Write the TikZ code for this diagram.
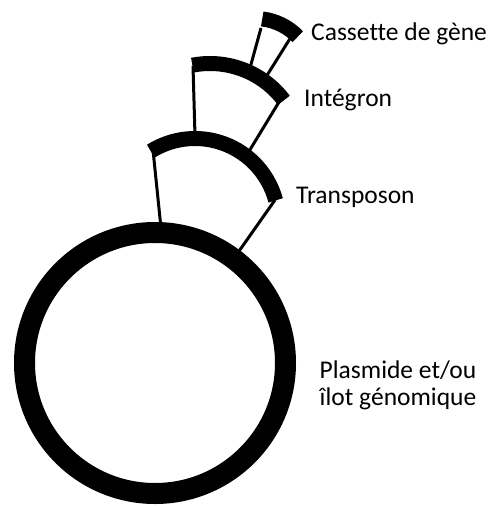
\documentclass[tikz,border=0pt]{standalone}
\usepackage{fontspec}
\setmainfont{Carlito}[Ligatures=NoCommon]
\begin{document}
\begin{tikzpicture}[x=1pt,y=-1pt,
  band/.style={line width=15pt},
  link/.style={line width=3pt},
  lbl/.style={inner sep=0pt,anchor=base west,font=\fontsize{25.5}{27}\selectfont}]
\useasboundingbox (0,0) rectangle (488,506);
% links between the levels
\coordinate (tnL) at (153,150);
\coordinate (tnR) at (275,200);
\coordinate (igL) at (193,66);
\coordinate (igR) at (279,102);
\coordinate (csL) at (261,28);
\coordinate (csR) at (291,37);
\coordinate (plA) at (161,228);
\coordinate (plB) at (237,254);
\coordinate (tnA) at (195,136);
\coordinate (tnB) at (248,153);
\coordinate (igA) at (250,68);
\coordinate (igB) at (266,77);
\draw[link] (tnL) -- (plA);
\draw[link] (tnR) -- (plB);
\draw[link] (igL) -- (tnA);
\draw[link] (igR) -- (tnB);
\draw[link] (csL) -- (igA);
\draw[link] (csR) -- (igB);
% plasmid
\draw[line width=21pt] (155,363) circle[radius=130.5];
% transposon, integron, cassette
\draw[band] (195,222) ++(-15:83.5) arc[start angle=-15,end angle=-122,radius=83.5];
\draw[band] (210,156) ++(-37:92.5) arc[start angle=-37,end angle=-101,radius=92.5];
\draw[band] (255,78) ++(-44:59.5) arc[start angle=-44,end angle=-83,radius=59.5];
% labels
\node[lbl] (cassette) at (311,40) {Cassette de gène};
\node[lbl] (integron) at (304,106) {Intégron};
\node[lbl] (transposon) at (296,203) {Transposon};
\node[inner sep=0pt,align=center,font=\fontsize{25.5}{27}\selectfont] (plasmide) at (398,385) {Plasmide et/ou\\îlot génomique};
\end{tikzpicture}
\end{document}
